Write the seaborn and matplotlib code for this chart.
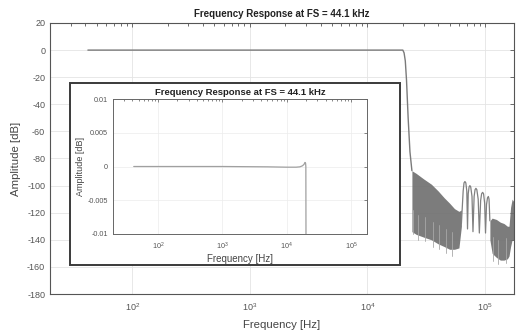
import numpy as np
import pandas as pd
import matplotlib
matplotlib.use("Agg")
import matplotlib.pyplot as plt
from matplotlib.patches import Rectangle
from matplotlib.ticker import LogLocator, NullFormatter
import seaborn as sns

# ---------------- data ----------------
title = "Frequency Response at FS = 44.1 kHz"

# passband + transition (main plot)
pass_f = [42, 100, 1000, 10000, 18000, 20000, 20500, 21000, 21500, 22200, 23000, 23900]
pass_db = [0, 0, 0, 0, 0, 0, -2, -8, -22, -50, -75, -89]

# first noisy stop-band region (upper / lower envelope)
band1_f = [23900, 26000, 30000, 35000, 40000, 45000, 50000, 55000, 60000, 63000]
band1_hi = [-89, -91, -95, -99, -104, -109, -113, -117, -119, -118]
band1_lo = [-134, -136, -138, -140, -143, -145, -147, -147, -146, -130]

# side-lobe region (nulls, shoulders and peaks)
lobe_f = [63000, 65200, 66300, 67500, 68700, 70000, 71000,
          72000, 73200, 74400, 75600, 77500, 79000,
          80800, 82300, 83700, 85200, 87500, 89500,
          91800, 93600, 95400, 97200, 99300, 101000,
          103000, 105000, 106800, 108200, 110000]
lobe_db = [-128, -104, -98, -97, -98, -104, -132,
           -106, -101, -100, -101, -108, -134,
           -108, -103, -102, -103, -110, -135,
           -111, -106, -105, -106, -113, -135,
           -114, -109, -108, -110, -126]

# second noisy stop-band region
band2_f = [110000, 115000, 125000, 135000, 145000, 155000, 160000, 165000, 170000, 176400]
band2_hi = [-126, -124, -125, -127, -128, -130, -130, -116, -110, -112]
band2_lo = [-140, -150, -153, -155, -155, -154, -152, -145, -140, -140]

# a few lighter streaks inside the noisy bands
spike_f = [24500, 27000, 31000, 36000, 41000, 47000, 52000, 118000, 128000, 150000]
spike_db = [-136, -140, -141, -145, -147, -150, -152, -156, -158, -157]

# inset (zoomed passband)
inset_f = [42, 100, 1000, 5000, 10000, 14000, 16000, 17500, 18500, 19200, 19600, 19800, 19900]
inset_db = [0, 0, 0, -0.00005, -0.0001, -0.0001, -0.00005, 0.0001, 0.0003, 0.0006, 0.0005, 0.0, -0.011]

main_yticks = [20, 0, -20, -40, -60, -80, -100, -120, -140, -160, -180]
inset_yticks = [0.01, 0.005, 0, -0.005, -0.01]
inset_yticklabels = ["0.01", "0.005", "0", "-0.005", "-0.01"]

# ---------------- figure ----------------
sns.set_theme(style="white")
plt.rcParams["font.family"] = ["Liberation Sans", "DejaVu Sans"]
plt.rcParams["axes.unicode_minus"] = False
plt.rcParams["mathtext.fontset"] = "custom"
plt.rcParams["mathtext.rm"] = "Liberation Sans"
plt.rcParams["mathtext.it"] = "Liberation Sans"

fig = plt.figure(figsize=(5.16, 3.35), dpi=100)
ax = fig.add_axes([50 / 516, 1 - 294 / 335, 464 / 516, 271 / 335])

line_col = "#7a7a7a"
noise_col = "#6e6e6e"

df_pass = pd.DataFrame({"f": pass_f, "db": pass_db})
sns.lineplot(data=df_pass, x="f", y="db", ax=ax, color=line_col, lw=1.0, sort=False)
ax.fill_between(band1_f, band1_lo, band1_hi, color=noise_col, lw=0, alpha=0.9)
ax.fill_between(band2_f, band2_lo, band2_hi, color=noise_col, lw=0, alpha=0.9)
df_lobe = pd.DataFrame({"f": lobe_f, "db": lobe_db})
sns.lineplot(data=df_lobe, x="f", y="db", ax=ax, color="#808080", lw=0.9, sort=False)
for f, d in zip(spike_f, spike_db):
    ax.plot([f, f], [d + 18, d], color="#a8a8a8", lw=0.6)

ax.set_xscale("log")
ax.set_xlim(20, 176400)
ax.set_ylim(-180, 20)
ax.set_yticks(main_yticks)
ax.xaxis.set_major_locator(LogLocator(base=10, numticks=10))
ax.xaxis.set_minor_locator(LogLocator(base=10, subs=np.arange(2, 10), numticks=20))
ax.xaxis.set_minor_formatter(NullFormatter())
ax.grid(True, which="major", color="#e4e4e4", lw=0.6)
ax.tick_params(axis="both", which="both", direction="in", top=True, right=True,
               labelsize=6.5, colors="#555555", length=3, width=0.6)
ax.tick_params(axis="x", which="minor", length=2)
ax.tick_params(axis="x", pad=5)
for s in ax.spines.values():
    s.set_color("#555555")
    s.set_linewidth(0.8)
ax.set_xlabel("Frequency [Hz]", fontsize=8.2, color="#444444", labelpad=5)
ax.set_ylabel("Amplitude [dB]", fontsize=8.2, color="#444444", labelpad=4)
ax.set_title(title, fontsize=7, fontweight="bold", color="#222222", pad=4)

# inset frame (white box)
frame = Rectangle((70 / 516, 1 - 265 / 335), 330 / 516, 182 / 335, transform=fig.transFigure,
                  facecolor="white", edgecolor="#3a3a3a", lw=1.4, zorder=5)
fig.patches.append(frame)

axi = fig.add_axes([113 / 516, 1 - 234 / 335, 254 / 516, 135 / 335], zorder=6)
df_in = pd.DataFrame({"f": inset_f, "db": inset_db})
sns.lineplot(data=df_in, x="f", y="db", ax=axi, color="#a0a0a0", lw=0.9, sort=False)
axi.set_xscale("log")
axi.set_xlim(20, 176400)
axi.set_ylim(-0.01, 0.01)
axi.set_yticks(inset_yticks)
axi.set_yticklabels(inset_yticklabels)
axi.xaxis.set_major_locator(LogLocator(base=10, numticks=10))
axi.xaxis.set_minor_locator(LogLocator(base=10, subs=np.arange(2, 10), numticks=20))
axi.xaxis.set_minor_formatter(NullFormatter())
axi.grid(True, which="major", color="#ececec", lw=0.5)
axi.tick_params(axis="both", which="both", direction="in", top=True, right=True,
                labelsize=5.2, colors="#555555", length=2, width=0.5)
axi.tick_params(axis="x", which="minor", length=1.2)
axi.tick_params(axis="x", pad=5)
for s in axi.spines.values():
    s.set_color("#666666")
    s.set_linewidth(0.7)
axi.set_xlabel("Frequency [Hz]", fontsize=7, color="#444444", labelpad=1)
axi.set_ylabel("Amplitude [dB]", fontsize=6.5, color="#444444", labelpad=2)
axi.set_title(title, fontsize=6.8, fontweight="bold", color="#222222", pad=3)

fig.savefig("out.png", dpi=100)
